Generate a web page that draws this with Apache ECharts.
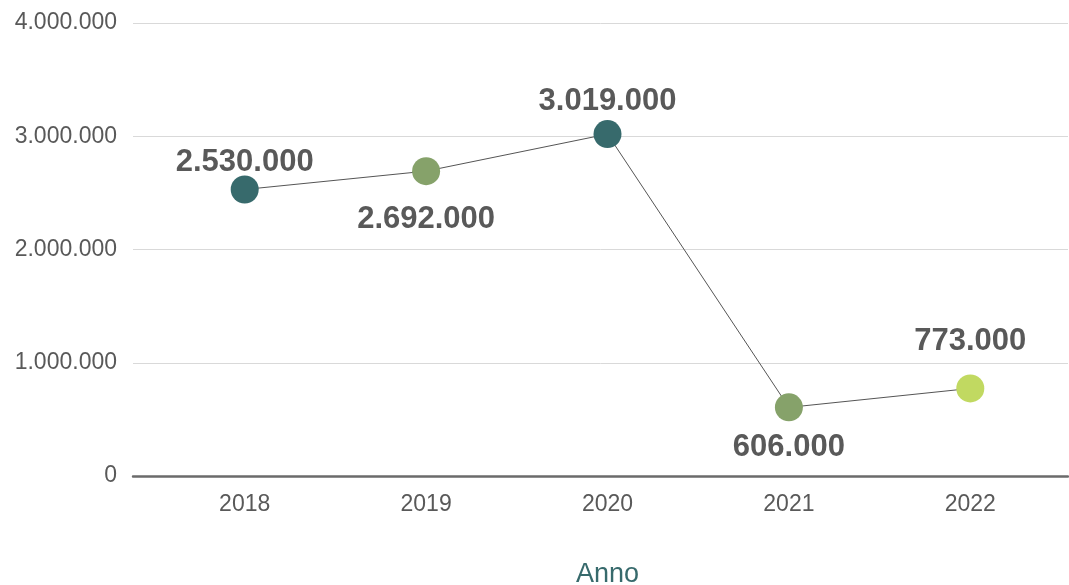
<!DOCTYPE html>
<html>
<head>
<meta charset="utf-8">
<script src="https://cdn.jsdelivr.net/npm/echarts@6/dist/echarts.min.js"></script>
<style>
    html, body { margin: 0; padding: 0; background: #fff; }
    #main { width: 1069px; height: 585px; }
</style>
</head>
<body>
<div id="main"></div>
<script>
var years = ['2018', '2019', '2020', '2021', '2022'];
var visitors = [2530000, 2692000, 3019000, 606000, 773000];
var yTicks = [0, 1000000, 2000000, 3000000, 4000000];

var font = 'Liberation Sans, Arial, Helvetica, sans-serif';
var dotColors = ['#376a6c', '#86a26a', '#376a6c', '#86a26a', '#c1d961'];
var labelPos = ['top', 'bottom', 'top', 'bottom', 'top'];
var labelDist = [-2, 19, 3, 11, 18];

function fmt(v) {
    return String(v).replace(/\B(?=(\d{3})+(?!\d))/g, '.');
}

var chart = echarts.init(document.getElementById('main'));
chart.setOption({
    backgroundColor: '#fff',
    animation: false,
    grid: [
        { left: 133, right: 1, top: 23, bottom: 109, outerBoundsMode: 'none', containLabel: false },
        { left: 154, right: 8, top: 23, bottom: 109, outerBoundsMode: 'none', containLabel: false }
    ],
    xAxis: [
        {
            gridIndex: 0,
            type: 'category',
            data: years,
            axisLine: { lineStyle: { color: '#6b6b6b', width: 2.5 } },
            axisTick: { show: false },
            axisLabel: { show: false }
        },
        {
            gridIndex: 1,
            type: 'category',
            data: years,
            axisLine: { show: false },
            axisTick: { show: false },
            axisLabel: { color: '#595959', fontSize: 23, fontFamily: font, margin: 17 },
            name: 'Anno',
            nameLocation: 'middle',
            nameGap: 85,
            nameTextStyle: { color: '#376a6c', fontSize: 27, fontFamily: font }
        }
    ],
    yAxis: [
        {
            gridIndex: 0,
            type: 'value',
            min: yTicks[0],
            max: yTicks[yTicks.length - 1],
            interval: yTicks[1] - yTicks[0],
            axisLine: { show: false },
            axisTick: { show: false },
            axisLabel: {
                color: '#595959', fontSize: 23, fontFamily: font, margin: 16,
                padding: [4, 0, 0, 0],
                formatter: function (v) { return fmt(v); }
            },
            splitLine: { lineStyle: { color: '#d9d9d9', width: 1 } }
        },
        {
            gridIndex: 1,
            type: 'value',
            min: yTicks[0],
            max: yTicks[yTicks.length - 1],
            show: false
        }
    ],
    series: [{
        type: 'line',
        xAxisIndex: 1,
        yAxisIndex: 1,
        symbol: 'circle',
        symbolSize: 28,
        lineStyle: { color: '#555', width: 1 },
        data: visitors.map(function (v, i) {
            return {
                value: v,
                itemStyle: { color: dotColors[i] },
                label: { position: labelPos[i], distance: labelDist[i] }
            };
        }),
        label: {
            show: true,
            color: '#595959',
            fontSize: 31,
            fontWeight: 'bold',
            fontFamily: font,
            formatter: function (p) { return fmt(p.value); }
        }
    }]
});
</script>
</body>
</html>
